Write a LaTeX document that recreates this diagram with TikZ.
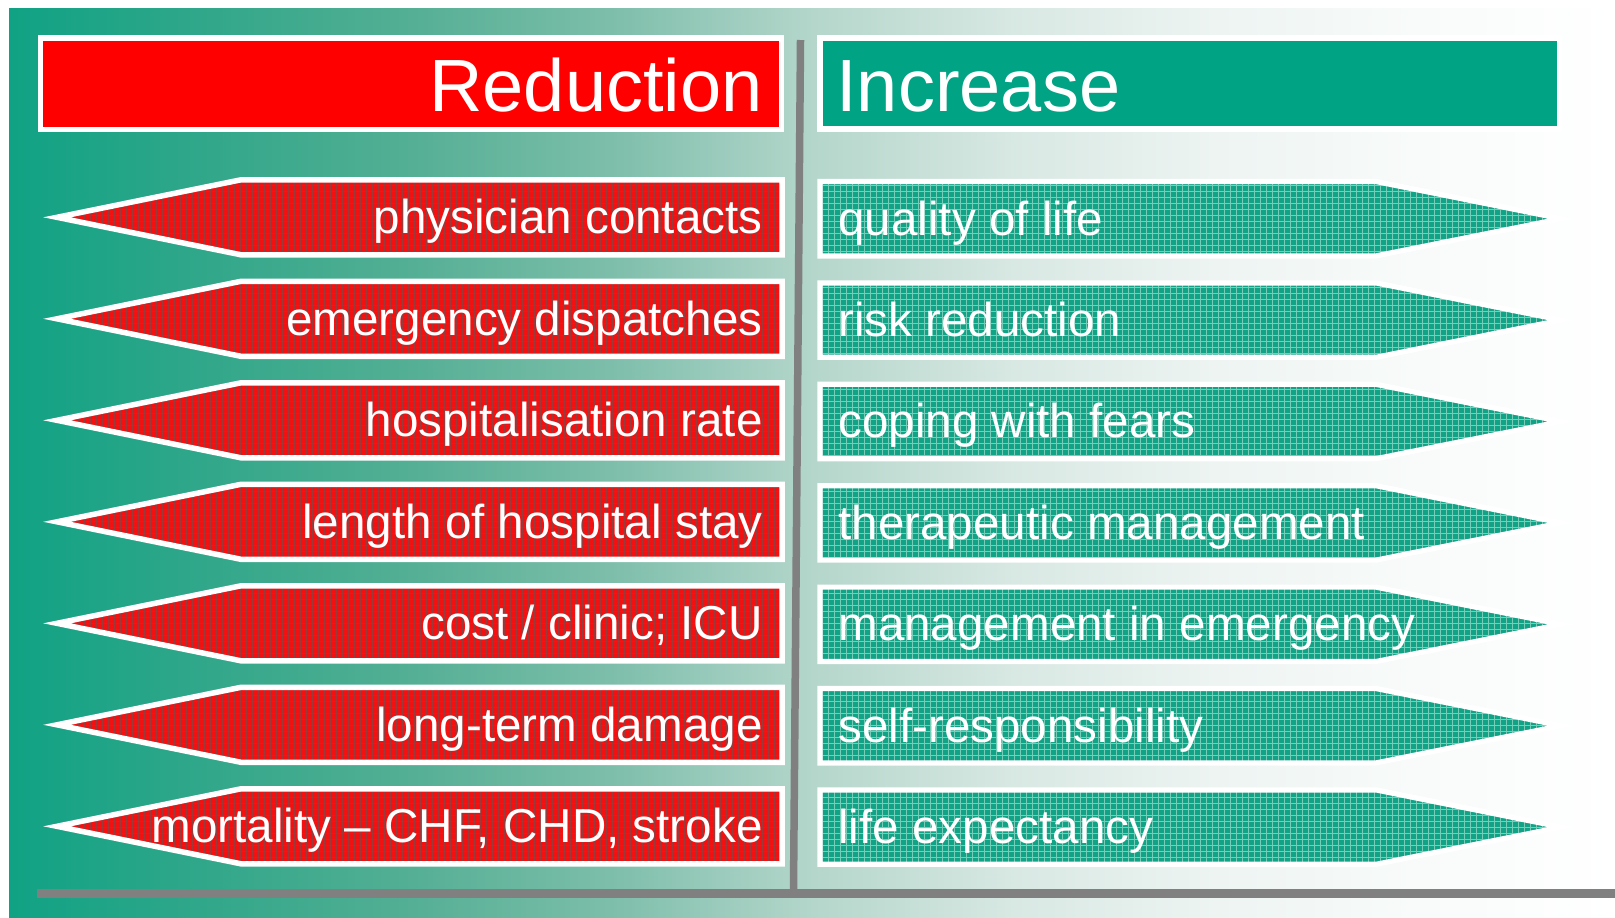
\documentclass[tikz,border=0pt]{standalone}
\usepackage{fontspec}
\setmainfont{Liberation Sans}
\usetikzlibrary{patterns}
\definecolor{fadeA}{RGB}{16,162,132}
\definecolor{fadeB}{RGB}{50,167,138}
\definecolor{fadeC}{RGB}{84,175,148}
\definecolor{fadeD}{RGB}{125,190,170}
\definecolor{fadeE}{RGB}{180,214,203}
\definecolor{fadeF}{RGB}{216,232,227}
\definecolor{fadeG}{RGB}{237,244,242}
\definecolor{fadeH}{RGB}{248,251,250}
\definecolor{headred}{RGB}{255,0,0}
\definecolor{headteal}{RGB}{0,163,132}
\definecolor{arrowred}{RGB}{242,16,16}
\definecolor{gridred}{RGB}{150,60,60}
\definecolor{arrowteal}{RGB}{18,163,135}
\definecolor{gridteal}{RGB}{120,205,185}
\definecolor{rulegray}{RGB}{128,128,128}
\pgfdeclarehorizontalshading{backfade}{100bp}{color(0bp)=(fadeA); color(25bp)=(fadeA);
  color(31.25bp)=(fadeB); color(37.5bp)=(fadeC); color(43.75bp)=(fadeD); color(50bp)=(fadeE);
  color(56.25bp)=(fadeF); color(62.5bp)=(fadeG); color(68.75bp)=(fadeH); color(75bp)=(white);
  color(100bp)=(white)}
\begin{document}
\begin{tikzpicture}
    [x=0.5pt,y=-0.5pt,
     headbox/.style={draw=white,line width=2.65pt},
     headtext/.style={text=white,font=\fontsize{37}{44}\selectfont,inner sep=0pt},
     redarrow/.style={draw=white,line width=2.75pt,preaction={fill=arrowred},
       pattern=grid,pattern color=gridred},
     tealarrow/.style={draw=white,line width=2.6pt,preaction={fill=arrowteal},
       pattern=grid,pattern color=gridteal},
     itemtext/.style={text=white,font=\fontsize{23.8}{28}\selectfont,inner sep=0pt},
     rule/.style={draw=rulegray}]
    \useasboundingbox[fill=white] (0,0) rectangle (1615,917);
    \shade[shading=backfade] (9,8) rectangle (1615,917);
    \draw[rule,line width=3.75pt] (800.5,40) -- (793.5,889);
    \draw[rule,line width=4.2pt] (36.6,893.5) -- (1615,893.5);
    \draw[headbox,fill=headred] (40.3,38) rectangle (781.3,129.2);
    \draw[headbox,fill=headteal] (820,38) rectangle (1559.5,129);
    \node[headtext,anchor=base east] (reduction) at (763,111.7) {Reduction};
    \node[headtext,anchor=base west] (increase) at (836,111.7) {Increase};
    \draw[redarrow] (57,217.3) -- ++(184,-37.5) -- ++(541,0) -- ++(0,75) -- ++(-541,0) -- cycle;
    \draw[redarrow] (57,318.8) -- ++(184,-37.5) -- ++(541,0) -- ++(0,75) -- ++(-541,0) -- cycle;
    \draw[redarrow] (57,420.3) -- ++(184,-37.5) -- ++(541,0) -- ++(0,75) -- ++(-541,0) -- cycle;
    \draw[redarrow] (57,521.8) -- ++(184,-37.5) -- ++(541,0) -- ++(0,75) -- ++(-541,0) -- cycle;
    \draw[redarrow] (57,623.3) -- ++(184,-37.5) -- ++(541,0) -- ++(0,75) -- ++(-541,0) -- cycle;
    \draw[redarrow] (57,724.8) -- ++(184,-37.5) -- ++(541,0) -- ++(0,75) -- ++(-541,0) -- cycle;
    \draw[redarrow] (57,826.3) -- ++(184,-37.5) -- ++(541,0) -- ++(0,75) -- ++(-541,0) -- cycle;
    \node[itemtext,anchor=base east] (physician) at (763,233.5) {physician contacts};
    \node[itemtext,anchor=base east] (emergency) at (763,335.0) {emergency dispatches};
    \node[itemtext,anchor=base east] (hospital) at (763,436.5) {hospitalisation rate};
    \node[itemtext,anchor=base east] (stay) at (763,538.0) {length of hospital stay};
    \node[itemtext,anchor=base east] (cost) at (763,639.5) {cost / clinic; ICU};
    \node[itemtext,anchor=base east] (damage) at (763,741.0) {long-term damage};
    \node[itemtext,anchor=base east] (mortality) at (763,842.5) {mortality -- CHF, CHD, stroke};
    \draw[tealarrow] (820,181.5) -- ++(556,0) -- ++(185,37.2) -- ++(-185,37.2) -- ++(-556,0) -- cycle;
    \draw[tealarrow] (820,282.9) -- ++(556,0) -- ++(185,37.2) -- ++(-185,37.2) -- ++(-556,0) -- cycle;
    \draw[tealarrow] (820,384.3) -- ++(556,0) -- ++(185,37.2) -- ++(-185,37.2) -- ++(-556,0) -- cycle;
    \draw[tealarrow] (820,485.7) -- ++(556,0) -- ++(185,37.2) -- ++(-185,37.2) -- ++(-556,0) -- cycle;
    \draw[tealarrow] (820,587.1) -- ++(556,0) -- ++(185,37.2) -- ++(-185,37.2) -- ++(-556,0) -- cycle;
    \draw[tealarrow] (820,688.5) -- ++(556,0) -- ++(185,37.2) -- ++(-185,37.2) -- ++(-556,0) -- cycle;
    \draw[tealarrow] (820,789.9) -- ++(556,0) -- ++(185,37.2) -- ++(-185,37.2) -- ++(-556,0) -- cycle;
    \node[itemtext,anchor=base west] (quality) at (838,235.0) {quality of life};
    \node[itemtext,anchor=base west] (risk) at (838,336.4) {risk reduction};
    \node[itemtext,anchor=base west] (coping) at (838,437.8) {coping with fears};
    \node[itemtext,anchor=base west] (therapy) at (838,539.2) {therapeutic management};
    \node[itemtext,anchor=base west] (emergencymgmt) at (838,640.6) {management in emergency};
    \node[itemtext,anchor=base west] (selfresp) at (838,742.0) {self-responsibility};
    \node[itemtext,anchor=base west] (lifeexp) at (838,843.4) {life expectancy};
\end{tikzpicture}
\end{document}
